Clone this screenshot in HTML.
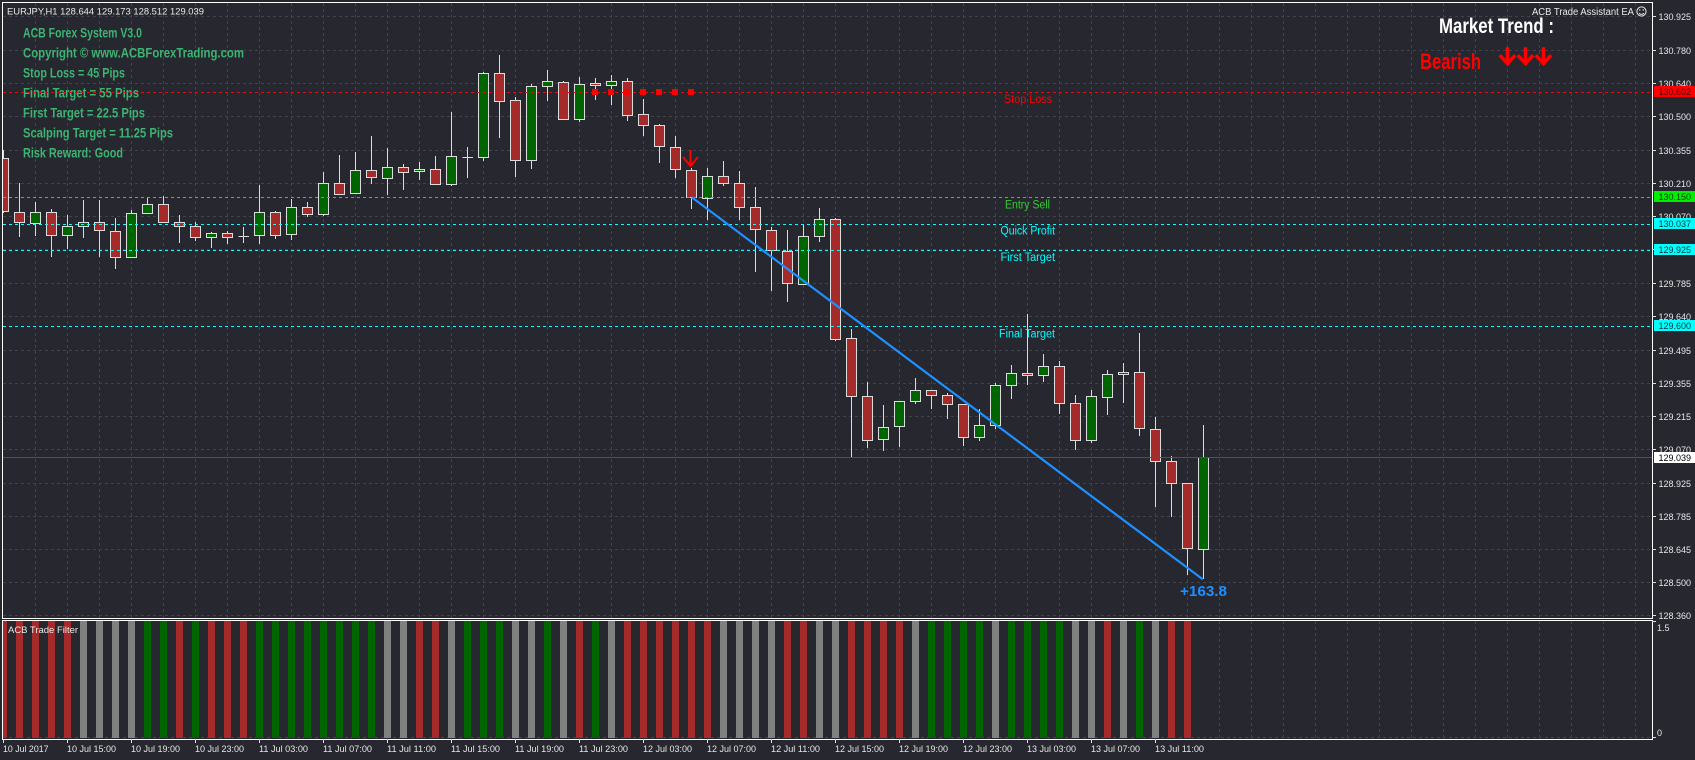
<!DOCTYPE html>
<html><head><meta charset="utf-8"><style>
html,body{margin:0;padding:0;background:#272730;overflow:hidden}
svg{display:block}
text{font-family:"Liberation Sans",sans-serif}
</style></head><body>
<svg width="1695" height="760" viewBox="0 0 1695 760" xmlns="http://www.w3.org/2000/svg">
<defs>
<clipPath id="cm"><rect x="3" y="3" width="1649" height="615"/></clipPath>
<clipPath id="cs"><rect x="3" y="621" width="1649" height="118"/></clipPath>
</defs>
<rect width="1695" height="760" fill="#272730"/>

<!-- main grid -->
<g clip-path="url(#cm)" stroke="#42424d" stroke-width="1" stroke-dasharray="3 3" fill="none">
<path d="M3 16.5H1652M3 50.5H1652M3 83.5H1652M3 116.5H1652M3 150.5H1652M3 183.5H1652M3 216.5H1652M3 249.5H1652M3 283.5H1652M3 316.5H1652M3 350.5H1652M3 383.5H1652M3 416.5H1652M3 449.5H1652M3 483.5H1652M3 516.5H1652M3 549.5H1652M3 582.5H1652M3 615.5H1652"/>
<path d="M35.5 3V618M67.5 3V618M99.5 3V618M131.5 3V618M163.5 3V618M195.5 3V618M227.5 3V618M259.5 3V618M291.5 3V618M323.5 3V618M355.5 3V618M387.5 3V618M419.5 3V618M451.5 3V618M483.5 3V618M515.5 3V618M547.5 3V618M579.5 3V618M611.5 3V618M643.5 3V618M675.5 3V618M707.5 3V618M739.5 3V618M771.5 3V618M803.5 3V618M835.5 3V618M867.5 3V618M899.5 3V618M931.5 3V618M963.5 3V618M995.5 3V618M1027.5 3V618M1059.5 3V618M1091.5 3V618M1123.5 3V618M1155.5 3V618M1187.5 3V618M1219.5 3V618M1251.5 3V618M1283.5 3V618M1315.5 3V618M1347.5 3V618M1379.5 3V618M1411.5 3V618M1443.5 3V618M1475.5 3V618M1507.5 3V618M1539.5 3V618M1571.5 3V618M1603.5 3V618M1635.5 3V618"/>
</g>

<!-- sub grid -->
<g clip-path="url(#cs)" stroke="#42424d" stroke-width="1" stroke-dasharray="3 3" fill="none">
<path d="M3 737.5H1652"/>
<path d="M35.5 621V739M67.5 621V739M99.5 621V739M131.5 621V739M163.5 621V739M195.5 621V739M227.5 621V739M259.5 621V739M291.5 621V739M323.5 621V739M355.5 621V739M387.5 621V739M419.5 621V739M451.5 621V739M483.5 621V739M515.5 621V739M547.5 621V739M579.5 621V739M611.5 621V739M643.5 621V739M675.5 621V739M707.5 621V739M739.5 621V739M771.5 621V739M803.5 621V739M835.5 621V739M867.5 621V739M899.5 621V739M931.5 621V739M963.5 621V739M995.5 621V739M1027.5 621V739M1059.5 621V739M1091.5 621V739M1123.5 621V739M1155.5 621V739M1187.5 621V739M1219.5 621V739M1251.5 621V739M1283.5 621V739M1315.5 621V739M1347.5 621V739M1379.5 621V739M1411.5 621V739M1443.5 621V739M1475.5 621V739M1507.5 621V739M1539.5 621V739M1571.5 621V739M1603.5 621V739M1635.5 621V739"/>
</g>

<!-- info text -->
<g font-weight="bold" font-size="14" fill="#3cb371">
<text x="23" y="37.5" textLength="119" lengthAdjust="spacingAndGlyphs">ACB Forex System V3.0</text>
<text x="23" y="57.5" textLength="221" lengthAdjust="spacingAndGlyphs">Copyright ©  www.ACBForexTrading.com</text>
<text x="23" y="77.5" textLength="102" lengthAdjust="spacingAndGlyphs">Stop Loss = 45 Pips</text>
<text x="23" y="97.5" textLength="116" lengthAdjust="spacingAndGlyphs">Final Target = 55 Pips</text>
<text x="23" y="117.5" textLength="122" lengthAdjust="spacingAndGlyphs">First Target = 22.5 Pips</text>
<text x="23" y="137.5" textLength="150" lengthAdjust="spacingAndGlyphs">Scalping Target = 11.25 Pips</text>
<text x="23" y="157.5" textLength="100" lengthAdjust="spacingAndGlyphs">Risk Reward: Good</text>
</g>

<!-- header -->
<text x="7" y="14.5" font-size="9.3" fill="#e8e8e8" textLength="197" lengthAdjust="spacingAndGlyphs">EURJPY,H1  128.644 129.173 128.512 129.039</text>

<!-- candles -->
<g clip-path="url(#cm)">
<path fill="none" stroke="#dcdcdc" stroke-width="1" d="M3.5 150V213M19.5 183V237M35.5 202V236M51.5 209V257M67.5 215V249M83.5 200V238M99.5 200V257M115.5 218V269M131.5 210V257M147.5 197V213M163.5 196V222M179.5 215V243M195.5 222V241M211.5 232V248M227.5 231V244M243.5 227V243M259.5 185V244M275.5 211V239M291.5 199V240M307.5 202V217M323.5 172V216M339.5 155V194M355.5 152V193M371.5 136V184M387.5 148V195M403.5 164V190M419.5 162V180M435.5 156V184M451.5 112V186M467.5 147V178M483.5 72V161M499.5 55V138M515.5 97V177M531.5 84V169M547.5 70V101M563.5 81V119M579.5 77V122M595.5 78V100M611.5 75V105M627.5 78V121M643.5 99V136M659.5 124V163M675.5 136V178M691.5 168V209M707.5 168V220M723.5 161V186M739.5 171V220M755.5 187V272M771.5 227V291M787.5 230V302M803.5 224V285M819.5 208V242M835.5 218V341M851.5 329V457M867.5 382V448M883.5 405V451M899.5 401V447M915.5 378V404M931.5 390V409M947.5 393V419M963.5 404V446M979.5 409V441M995.5 383V429M1011.5 365V399M1027.5 314V385M1043.5 354V382M1059.5 361V414M1075.5 395V450M1091.5 390V443M1107.5 370V415M1123.5 363V403M1139.5 333V436M1155.5 417V507M1171.5 456V517M1187.5 483V575M1203.5 425V579M238.5 236.5H249M462.5 157.5H473"/>
<g stroke="#dcdcdc" stroke-width="1" fill="#a52a2a">
<rect x="-1.5" y="158.5" width="10" height="53"/>
<rect x="14.5" y="212.5" width="10" height="10"/>
<rect x="46.5" y="212.5" width="10" height="23"/>
<rect x="94.5" y="222.5" width="10" height="8"/>
<rect x="110.5" y="231.5" width="10" height="26"/>
<rect x="158.5" y="204.5" width="10" height="18"/>
<rect x="174.5" y="222.5" width="10" height="4"/>
<rect x="190.5" y="226.5" width="10" height="11"/>
<rect x="222.5" y="233.5" width="10" height="4"/>
<rect x="270.5" y="212.5" width="10" height="23"/>
<rect x="302.5" y="207.5" width="10" height="7"/>
<rect x="334.5" y="183.5" width="10" height="11"/>
<rect x="366.5" y="170.5" width="10" height="7"/>
<rect x="398.5" y="167.5" width="10" height="5"/>
<rect x="430.5" y="169.5" width="10" height="15"/>
<rect x="494.5" y="73.5" width="10" height="28"/>
<rect x="510.5" y="100.5" width="10" height="60"/>
<rect x="558.5" y="82.5" width="10" height="37"/>
<rect x="590.5" y="83.5" width="10" height="2"/>
<rect x="622.5" y="81.5" width="10" height="34"/>
<rect x="638.5" y="114.5" width="10" height="11"/>
<rect x="654.5" y="125.5" width="10" height="21"/>
<rect x="670.5" y="147.5" width="10" height="22"/>
<rect x="686.5" y="170.5" width="10" height="27"/>
<rect x="718.5" y="176.5" width="10" height="7"/>
<rect x="734.5" y="183.5" width="10" height="24"/>
<rect x="750.5" y="207.5" width="10" height="22"/>
<rect x="766.5" y="230.5" width="10" height="20"/>
<rect x="782.5" y="251.5" width="10" height="32"/>
<rect x="830.5" y="219.5" width="10" height="120"/>
<rect x="846.5" y="338.5" width="10" height="58"/>
<rect x="862.5" y="396.5" width="10" height="44"/>
<rect x="926.5" y="390.5" width="10" height="5"/>
<rect x="942.5" y="395.5" width="10" height="9"/>
<rect x="958.5" y="404.5" width="10" height="33"/>
<rect x="1022.5" y="373.5" width="10" height="2"/>
<rect x="1054.5" y="366.5" width="10" height="37"/>
<rect x="1070.5" y="403.5" width="10" height="37"/>
<rect x="1134.5" y="372.5" width="10" height="56"/>
<rect x="1150.5" y="429.5" width="10" height="32"/>
<rect x="1166.5" y="461.5" width="10" height="22"/>
<rect x="1182.5" y="483.5" width="10" height="65"/>
</g>
<g stroke="#dcdcdc" stroke-width="1" fill="#006400">
<rect x="30.5" y="212.5" width="10" height="11"/>
<rect x="62.5" y="226.5" width="10" height="9"/>
<rect x="78.5" y="222.5" width="10" height="4"/>
<rect x="126.5" y="213.5" width="10" height="44"/>
<rect x="142.5" y="204.5" width="10" height="9"/>
<rect x="206.5" y="233.5" width="10" height="4"/>
<rect x="254.5" y="212.5" width="10" height="23"/>
<rect x="286.5" y="207.5" width="10" height="27"/>
<rect x="318.5" y="183.5" width="10" height="31"/>
<rect x="350.5" y="170.5" width="10" height="23"/>
<rect x="382.5" y="167.5" width="10" height="11"/>
<rect x="414.5" y="169.5" width="10" height="2"/>
<rect x="446.5" y="156.5" width="10" height="28"/>
<rect x="478.5" y="73.5" width="10" height="84"/>
<rect x="526.5" y="86.5" width="10" height="74"/>
<rect x="542.5" y="81.5" width="10" height="5"/>
<rect x="574.5" y="84.5" width="10" height="35"/>
<rect x="606.5" y="81.5" width="10" height="4"/>
<rect x="702.5" y="176.5" width="10" height="22"/>
<rect x="798.5" y="236.5" width="10" height="48"/>
<rect x="814.5" y="219.5" width="10" height="17"/>
<rect x="878.5" y="427.5" width="10" height="12"/>
<rect x="894.5" y="401.5" width="10" height="25"/>
<rect x="910.5" y="390.5" width="10" height="11"/>
<rect x="974.5" y="425.5" width="10" height="12"/>
<rect x="990.5" y="385.5" width="10" height="40"/>
<rect x="1006.5" y="373.5" width="10" height="12"/>
<rect x="1038.5" y="366.5" width="10" height="9"/>
<rect x="1086.5" y="396.5" width="10" height="44"/>
<rect x="1102.5" y="374.5" width="10" height="23"/>
<rect x="1118.5" y="372.5" width="10" height="2"/>
<rect x="1198.5" y="457.5" width="10" height="92"/>
</g>

<!-- bid line -->
<path d="M3 457.5H1652" stroke="#50505a" stroke-width="1"/>
<!-- level lines -->
<g stroke-width="1" stroke-dasharray="3 3" fill="none">
<path d="M3 92.5H1652" stroke="#ff0000"/>
<path d="M3 197.5H1652" stroke="#32cd32"/>
<path d="M3 224.5H1652M3 250.5H1652M3 326.5H1652" stroke="#00ffff"/>
</g>

<!-- blue line -->
<path d="M691.7 197.3L1202.7 579.3" stroke="#1e90ff" stroke-width="2.2" fill="none"/>
<!-- stop loss squares -->
<g fill="#ff0000">
<rect x="592" y="89" width="6" height="6"/><rect x="608" y="89" width="6" height="6"/><rect x="624" y="89" width="6" height="6"/><rect x="640" y="89" width="6" height="6"/><rect x="656" y="89" width="6" height="6"/><rect x="672" y="89" width="6" height="6"/><rect x="688" y="89" width="6" height="6"/>
</g>
<!-- red arrow -->
<path d="M690.5 150V166M683 157L690.5 166L698 157" stroke="#ff0000" stroke-width="2" fill="none"/>
</g>

<!-- level labels -->
<g font-size="11.5">
<text x="1004" y="103" fill="#ff0000" textLength="48" lengthAdjust="spacingAndGlyphs">Stop Loss</text>
<text x="1005" y="208.5" fill="#32cd32" textLength="45" lengthAdjust="spacingAndGlyphs">Entry Sell</text>
<text x="1000.5" y="234.5" fill="#00ffff" textLength="54.5" lengthAdjust="spacingAndGlyphs">Quick Profit</text>
<text x="1000.5" y="261" fill="#00ffff" textLength="54.5" lengthAdjust="spacingAndGlyphs">First Target</text>
<text x="999" y="337.5" fill="#00ffff" textLength="56" lengthAdjust="spacingAndGlyphs">Final Target</text>
</g>
<text x="1180" y="596" font-size="14.5" font-weight="bold" fill="#1e90ff" textLength="47" lengthAdjust="spacingAndGlyphs">+163.8</text>

<!-- top right -->
<text x="1532" y="15" font-size="9.7" fill="#e8e8e8" textLength="102" lengthAdjust="spacingAndGlyphs">ACB Trade Assistant EA</text>
<g stroke="#e8e8e8" stroke-width="1" fill="none">
<circle cx="1641.5" cy="11.5" r="4.6"/>
<path d="M1639 13.2Q1641.5 15.5 1644 13.2"/>
</g>
<circle cx="1639.8" cy="10" r="0.7" fill="#e8e8e8"/><circle cx="1643.2" cy="10" r="0.7" fill="#e8e8e8"/>
<text x="1439" y="33" font-size="21" font-weight="bold" fill="#ffffff" textLength="115" lengthAdjust="spacingAndGlyphs">Market Trend :</text>
<text x="1420" y="69" font-size="22" font-weight="bold" fill="#ff0000" textLength="61" lengthAdjust="spacingAndGlyphs">Bearish</text>
<g stroke="#ff0000" stroke-width="3.5" fill="none" stroke-linecap="square">
<path d="M1507.5 49V63M1501 56.5L1507.5 63.5L1514 56.5"/>
<path d="M1525.5 49V63M1519 56.5L1525.5 63.5L1532 56.5"/>
<path d="M1543.5 49V63M1537 56.5L1543.5 63.5L1550 56.5"/>
</g>

<!-- sub window bars -->
<g clip-path="url(#cs)" stroke-width="7" fill="none">
<path stroke="#a52a2a" d="M3.5 621V738M19.5 621V738M35.5 621V738M51.5 621V738M67.5 621V738M179.5 621V738M211.5 621V738M227.5 621V738M243.5 621V738M419.5 621V738M435.5 621V738M579.5 621V738M627.5 621V738M643.5 621V738M659.5 621V738M675.5 621V738M691.5 621V738M707.5 621V738M787.5 621V738M803.5 621V738M851.5 621V738M867.5 621V738M883.5 621V738M899.5 621V738M1107.5 621V738M1171.5 621V738M1187.5 621V738"/>
<path stroke="#006400" d="M147.5 621V738M163.5 621V738M195.5 621V738M259.5 621V738M275.5 621V738M291.5 621V738M307.5 621V738M323.5 621V738M339.5 621V738M355.5 621V738M371.5 621V738M467.5 621V738M483.5 621V738M499.5 621V738M547.5 621V738M595.5 621V738M931.5 621V738M947.5 621V738M963.5 621V738M979.5 621V738M1011.5 621V738M1027.5 621V738M1043.5 621V738M1059.5 621V738M1139.5 621V738"/>
<path stroke="#808080" d="M83.5 621V738M99.5 621V738M115.5 621V738M131.5 621V738M387.5 621V738M403.5 621V738M451.5 621V738M515.5 621V738M531.5 621V738M563.5 621V738M611.5 621V738M723.5 621V738M739.5 621V738M755.5 621V738M771.5 621V738M819.5 621V738M835.5 621V738M915.5 621V738M995.5 621V738M1075.5 621V738M1091.5 621V738M1123.5 621V738M1155.5 621V738"/>
</g>
<text x="8" y="633" font-size="9.4" fill="#e8e8e8" textLength="70" lengthAdjust="spacingAndGlyphs">ACB Trade Filter</text>

<!-- frames -->
<g stroke="#ffffff" stroke-width="1" fill="none">
<path d="M2.5 2.5H1652.5V618.5H2.5Z"/>
<path d="M2.5 620.5H1652.5V739.5H2.5Z"/>
</g>

<!-- price axis -->
<g stroke="#e0e0e0" stroke-width="1">
<path d="M1652 16.5h4M1652 50.5h4M1652 83.5h4M1652 116.5h4M1652 150.5h4M1652 183.5h4M1652 216.5h4M1652 249.5h4M1652 283.5h4M1652 316.5h4M1652 350.5h4M1652 383.5h4M1652 416.5h4M1652 449.5h4M1652 483.5h4M1652 516.5h4M1652 549.5h4M1652 582.5h4M1652 615.5h4M1652 621.5h4M1652 737.5h4"/>
</g>
<g font-size="9" fill="#e6e6e6">
<text x="1658.5" y="19.8">130.925</text>
<text x="1658.5" y="53.8">130.780</text>
<text x="1658.5" y="86.8">130.640</text>
<text x="1658.5" y="119.8">130.500</text>
<text x="1658.5" y="153.8">130.355</text>
<text x="1658.5" y="186.8">130.210</text>
<text x="1658.5" y="219.8">130.070</text>
<text x="1658.5" y="286.8">129.785</text>
<text x="1658.5" y="319.8">129.640</text>
<text x="1658.5" y="353.8">129.495</text>
<text x="1658.5" y="386.8">129.355</text>
<text x="1658.5" y="419.8">129.215</text>
<text x="1658.5" y="452.8">129.070</text>
<text x="1658.5" y="486.8">128.925</text>
<text x="1658.5" y="519.8">128.785</text>
<text x="1658.5" y="552.8">128.645</text>
<text x="1658.5" y="585.8">128.500</text>
<text x="1658.5" y="618.8">128.360</text>
<text x="1657" y="631">1.5</text>
<text x="1657" y="736">0</text>
</g>
<!-- price boxes -->
<rect x="1654" y="86" width="41" height="11" fill="#ff0000"/>
<rect x="1654" y="191" width="41" height="11" fill="#00ee00"/>
<rect x="1654" y="218" width="41" height="11" fill="#00ffff"/>
<rect x="1654" y="244" width="41" height="11" fill="#00ffff"/>
<rect x="1654" y="320" width="41" height="11" fill="#00ffff"/>
<rect x="1654" y="452" width="41" height="11" fill="#ffffff"/>
<g font-size="9">
<text x="1658.5" y="95" fill="#500000">130.602</text>
<text x="1658.5" y="200" fill="#003300">130.150</text>
<text x="1658.5" y="227" fill="#003838">130.037</text>
<text x="1658.5" y="253" fill="#003838">129.925</text>
<text x="1658.5" y="329" fill="#003838">129.600</text>
<text x="1658.5" y="461" fill="#000000">129.039</text>
</g>

<!-- time axis -->
<path stroke="#e0e0e0" stroke-width="1" d="M3.5 739V743M67.5 739V743M131.5 739V743M195.5 739V743M259.5 739V743M323.5 739V743M387.5 739V743M451.5 739V743M515.5 739V743M579.5 739V743M643.5 739V743M707.5 739V743M771.5 739V743M835.5 739V743M899.5 739V743M963.5 739V743M1027.5 739V743M1091.5 739V743M1155.5 739V743"/>
<g font-size="9.5" fill="#e6e6e6">
<text x="3" y="752" textLength="45.5" lengthAdjust="spacingAndGlyphs">10 Jul 2017</text>
<text x="67" y="752" textLength="49" lengthAdjust="spacingAndGlyphs">10 Jul 15:00</text>
<text x="131" y="752" textLength="49" lengthAdjust="spacingAndGlyphs">10 Jul 19:00</text>
<text x="195" y="752" textLength="49" lengthAdjust="spacingAndGlyphs">10 Jul 23:00</text>
<text x="259" y="752" textLength="49" lengthAdjust="spacingAndGlyphs">11 Jul 03:00</text>
<text x="323" y="752" textLength="49" lengthAdjust="spacingAndGlyphs">11 Jul 07:00</text>
<text x="387" y="752" textLength="49" lengthAdjust="spacingAndGlyphs">11 Jul 11:00</text>
<text x="451" y="752" textLength="49" lengthAdjust="spacingAndGlyphs">11 Jul 15:00</text>
<text x="515" y="752" textLength="49" lengthAdjust="spacingAndGlyphs">11 Jul 19:00</text>
<text x="579" y="752" textLength="49" lengthAdjust="spacingAndGlyphs">11 Jul 23:00</text>
<text x="643" y="752" textLength="49" lengthAdjust="spacingAndGlyphs">12 Jul 03:00</text>
<text x="707" y="752" textLength="49" lengthAdjust="spacingAndGlyphs">12 Jul 07:00</text>
<text x="771" y="752" textLength="49" lengthAdjust="spacingAndGlyphs">12 Jul 11:00</text>
<text x="835" y="752" textLength="49" lengthAdjust="spacingAndGlyphs">12 Jul 15:00</text>
<text x="899" y="752" textLength="49" lengthAdjust="spacingAndGlyphs">12 Jul 19:00</text>
<text x="963" y="752" textLength="49" lengthAdjust="spacingAndGlyphs">12 Jul 23:00</text>
<text x="1027" y="752" textLength="49" lengthAdjust="spacingAndGlyphs">13 Jul 03:00</text>
<text x="1091" y="752" textLength="49" lengthAdjust="spacingAndGlyphs">13 Jul 07:00</text>
<text x="1155" y="752" textLength="49" lengthAdjust="spacingAndGlyphs">13 Jul 11:00</text>
</g>
</svg>
</body></html>
